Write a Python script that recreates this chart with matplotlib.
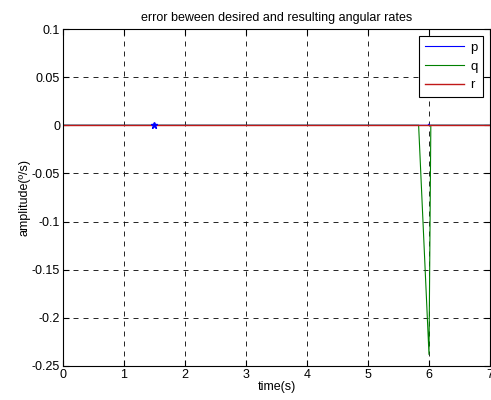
import numpy as np
import matplotlib.pyplot as plt

plt.rcParams['font.family'] = ['Liberation Sans', 'DejaVu Sans']

# error traces (time in s, error in deg/s)
t_p = [0, 5.98, 6.0, 6.02, 7]
err_p = [0, 0, 0.0012, 0, 0]
t_q = [0, 5.83, 6.0, 6.03, 7]
err_q = [0, 0, -0.238, 0, 0]
t_r = [0, 7]
err_r = [0, 0]
# single marked sample
t_mark = [1.5]
err_mark = [0]

xticks = [0, 1, 2, 3, 4, 5, 6, 7]
yticks = [0.1, 0.05, 0, -0.05, -0.1, -0.15, -0.2, -0.25]

fig = plt.figure(figsize=(4.91, 4.0), dpi=100)
ax = fig.add_axes([0.128, 0.085, 0.87, 0.8425])

ax.plot(t_p, err_p, color='blue', lw=0.8, label='p')
ax.plot(t_q, err_q, color='green', lw=0.8, label='q')
ax.plot(t_r, err_r, color='#c01818', lw=1.0, label='r')
ax.plot(t_mark, err_mark, 'b*', ms=5)

ax.set_xlim(0, 7)
ax.set_ylim(-0.25, 0.1)
ax.set_xticks(xticks)
ax.set_yticks(yticks)
ax.set_yticklabels(['0.1', '0.05', '0', '-0.05', '-0.1', '-0.15', '-0.2', '-0.25'])
ax.grid(True, color='black', linestyle=(0, (6, 6)), lw=0.6)
ax.tick_params(direction='in', top=True, right=True, labelsize=9, length=4, pad=2)
for s in ax.spines.values():
    s.set_linewidth(0.8)

ax.set_title('error beween desired and resulting angular rates', fontsize=9, pad=6)
ax.set_xlabel('time(s)', fontsize=9, labelpad=0)
ax.set_ylabel('amplitude(\u00ba/s)', fontsize=9, labelpad=1)

leg = ax.legend(loc='upper right', fontsize=9.5, fancybox=False, framealpha=1,
                edgecolor='black', borderaxespad=0.5, handlelength=2.9,
                labelspacing=0.5, borderpad=0.45, handletextpad=0.5)
leg.get_frame().set_linewidth(0.8)

plt.savefig('out.png', dpi=100)
